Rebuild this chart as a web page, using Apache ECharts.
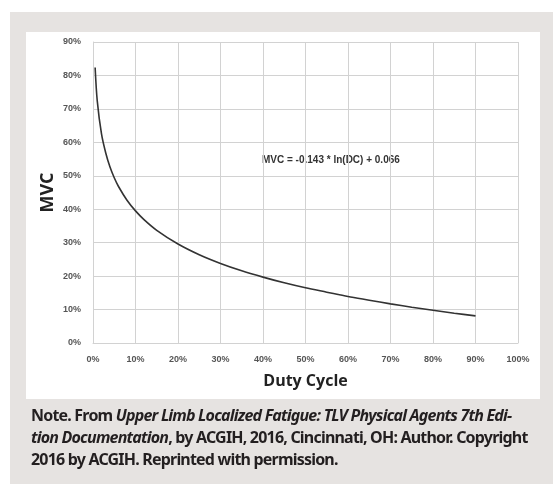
<!DOCTYPE html>
<html>
<head>
<meta charset="utf-8">
<script src="https://cdn.jsdelivr.net/npm/echarts@6/dist/echarts.min.js"></script>
<style>
  html, body { margin: 0; padding: 0; background: #fff; }
  #wrap { position: relative; width: 553px; height: 484px; overflow: hidden; }
  #panel { position: absolute; left: 10px; top: 12px; width: 543px; height: 472px; background: #e6e3e1; }
  #box { position: absolute; left: 26px; top: 32px; width: 514px; height: 367px; background: #fff; }
  #chart { position: absolute; left: 0; top: 0; width: 553px; height: 484px; }
  #note {
    position: absolute; left: 31px; top: 404px; width: 520px;
    font-family: "Noto Sans", "Open Sans", sans-serif; font-weight: 700;
    font-size: 16px; line-height: 22px; color: #231f20; letter-spacing: -0.8px;
    white-space: nowrap;
  }
</style>
</head>
<body>
<div id="wrap">
  <div id="panel"></div>
  <div id="box"></div>
  <div id="chart"></div>
  <div id="note">Note. From <i>Upper Limb Localized Fatigue: TLV Physical Agents 7th Edi-</i><br><i>tion Documentation</i>, by ACGIH, 2016, Cincinnati, OH: Author. Copyright<br>2016 by ACGIH. Reprinted with permission.</div>
</div>
<script>
// duty cycle (%) and MVC (%)
const dutyCycle = [0.5, 1, 2, 3, 4, 5, 6, 8, 10, 12, 15, 20, 25, 30, 35, 40, 45, 50, 55, 60, 65, 70, 75, 80, 85, 90];
const mvc = [82.4, 72.4, 62.5, 56.8, 52.6, 49.4, 46.8, 42.7, 39.5, 36.9, 33.7, 29.6, 26.4, 23.8, 21.6, 19.7, 18.0, 16.5, 15.2, 13.9, 12.8, 11.7, 10.7, 9.8, 8.9, 8.1];
const equation = 'MVC = -0.143 * ln(DC) + 0.066';

const gridColor = '#d2d2d2';
const tickStyle = { color: '#555', fontSize: 9, fontWeight: 'bold', fontFamily: 'Liberation Sans, Arial, sans-serif' };

const chart = echarts.init(document.getElementById('chart'));
chart.setOption({
  animation: false,
  grid: { left: 93, top: 42, right: 35, bottom: 141 },
  xAxis: {
    type: 'value',
    min: 0,
    max: 100,
    interval: 10,
    name: 'Duty Cycle',
    nameLocation: 'middle',
    nameGap: 30,
    nameTextStyle: { color: '#222', fontSize: 16, fontWeight: 'bold', fontFamily: 'Open Sans, sans-serif' },
    axisLine: { lineStyle: { color: gridColor } },
    axisTick: { show: false },
    axisLabel: Object.assign({ margin: 12, formatter: '{value}%' }, tickStyle),
    splitLine: { lineStyle: { color: gridColor } }
  },
  yAxis: {
    type: 'value',
    min: 0,
    max: 90,
    interval: 10,
    name: 'MVC',
    nameLocation: 'middle',
    nameGap: 36,
    nameMoveOverlap: false,
    nameTextStyle: { color: '#222', fontSize: 18, fontWeight: 'bold', fontFamily: 'Open Sans, sans-serif' },
    axisLine: { show: true, lineStyle: { color: gridColor } },
    axisTick: { show: false },
    axisLabel: Object.assign({ margin: 12, formatter: '{value}%' }, tickStyle),
    splitLine: { lineStyle: { color: gridColor } }
  },
  graphic: [{
    type: 'text',
    left: 262,
    top: 155,
    style: { text: equation, fill: '#333', fontSize: 10, fontWeight: 'bold', fontFamily: 'Liberation Sans, Arial, sans-serif' }
  }],
  series: [{
    type: 'line',
    data: dutyCycle.map((d, i) => [d, mvc[i]]),
    smooth: 0.3,
    showSymbol: false,
    lineStyle: { color: '#333', width: 1.6 }
  }]
});
</script>
</body>
</html>
